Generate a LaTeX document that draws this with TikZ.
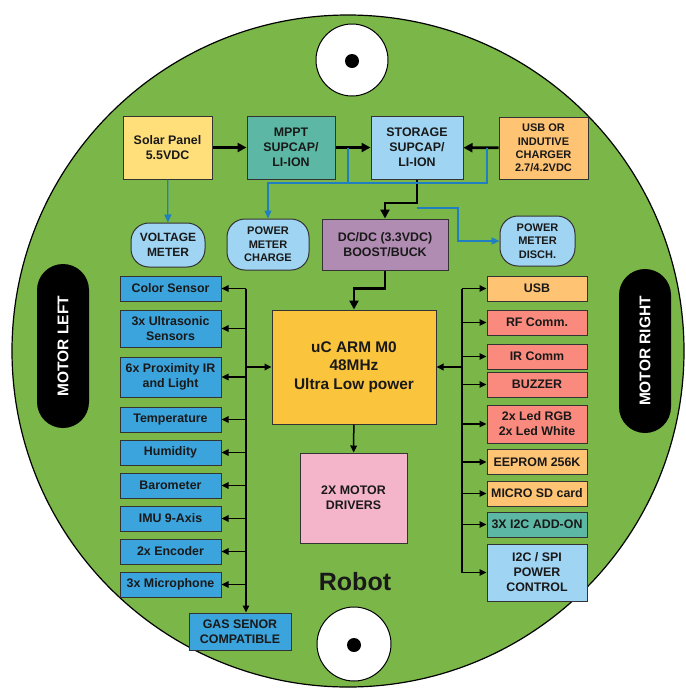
\documentclass[tikz,border=0pt]{standalone}
\usepackage{fontspec}
\setmainfont{Liberation Sans}
\usetikzlibrary{arrows.meta}

\definecolor{robotgreen}{HTML}{7AB648}
\definecolor{solaryellow}{HTML}{FFDF7A}
\definecolor{mpptteal}{HTML}{5CB8A5}
\definecolor{meterblue}{HTML}{9FD4F3}
\definecolor{chgorange}{HTML}{FFC374}
\definecolor{dcpurple}{HTML}{B08CB3}
\definecolor{ucgold}{HTML}{FBC43D}
\definecolor{drvpink}{HTML}{F4B4C9}
\definecolor{sensblue}{HTML}{3BA4DC}
\definecolor{salmon}{HTML}{FA8A7D}
\definecolor{senseblue}{HTML}{1F7FC1}

\newcommand*{\lbusx}{246}
\newcommand*{\rbusx}{462}
\newcommand*{\colL}{170.5}
\newcommand*{\colR}{537}

\begin{document}
\begin{tikzpicture}
[
	x=1pt, y=-1pt,
	blk/.style={draw=black!80, line width=1pt, align=center, inner sep=0pt, text=black!90, font=\bfseries\fontsize{12.4}{15}\selectfont},
	sensor/.style={blk, fill=sensblue, minimum width=101pt, minimum height=25pt},
	outbox/.style={blk, minimum width=100pt, minimum height=25pt},
	meter/.style={blk, fill=meterblue, rounded corners=18pt, font=\bfseries\fontsize{11}{13.5}\selectfont},
	motor/.style={fill=black, rounded corners=26pt, text=white, rotate=90, minimum width=164pt, minimum height=52pt, font=\bfseries\fontsize{15.5}{18}\selectfont},
	pwr/.style={line width=2.8pt, -{Triangle[length=9pt,width=9pt]}},
	bus/.style={line width=1.3pt},
	busarr/.style={bus, -{Triangle[length=7pt,width=6.5pt]}},
	sense/.style={line width=1.2pt, draw=senseblue},
	sensearr/.style={sense, -{Triangle[length=8pt,width=7pt]}}
]
	\useasboundingbox (0,0) rectangle (686,689);

	% body and wheels
	\draw[fill=robotgreen, line width=1.2pt] (348,351) circle[radius=336pt];
	\draw[fill=white, line width=1pt] (352,60) circle[radius=36pt];
	\fill (352,61) circle[radius=7pt];
	\draw[fill=white, line width=1pt] (354,644) circle[radius=37pt];
	\fill (354,645) circle[radius=7pt];
	\node[motor] (motorL) at (63,346) {MOTOR LEFT};
	\node[motor] (motorR) at (645,351) {MOTOR RIGHT};
	\node[font=\bfseries\fontsize{25}{30}\selectfont, text=black!90] (robot) at (355,582) {Robot};

	% power chain
	\node[blk, fill=solaryellow, minimum width=89pt, minimum height=63pt] (solar) at (167.5,147.5) {Solar Panel\\5.5VDC};
	\node[blk, fill=mpptteal, minimum width=88pt, minimum height=63pt] (mppt) at (291,147.5) {MPPT\\SUPCAP/\\LI-ION};
	\node[blk, fill=meterblue, minimum width=92pt, minimum height=63pt] (storage) at (417,147.5) {STORAGE\\SUPCAP/\\LI-ION};
	\node[blk, fill=chgorange, minimum width=89pt, minimum height=62pt, font=\bfseries\fontsize{11}{13.3}\selectfont] (charger) at (543.5,148) {USB OR\\INDUTIVE\\CHARGER\\2.7/4.2VDC};
	\node[meter, minimum width=74pt, minimum height=44pt, font=\bfseries\fontsize{12}{14.5}\selectfont] (vmeter) at (168,245) {VOLTAGE\\METER};
	\node[meter, minimum width=82pt, minimum height=51pt] (pmcharge) at (268,244.5) {POWER\\METER\\CHARGE};
	\node[meter, minimum width=75pt, minimum height=50pt] (pmdisch) at (537.5,241) {POWER\\METER\\DISCH.};
	\node[blk, fill=dcpurple, minimum width=126pt, minimum height=51pt] (dcdc) at (385,244.5) {DC/DC (3.3VDC)\\BOOST/BUCK};

	% controller
	\node[blk, fill=ucgold, minimum width=164pt, minimum height=114pt, font=\bfseries\fontsize{15.4}{18.3}\selectfont] (uc) at (354,367) {uC ARM M0\\48MHz\\Ultra Low power};
	\node[blk, fill=drvpink, minimum width=107pt, minimum height=90pt] (drivers) at (353.5,498) {2X MOTOR\\DRIVERS};

	% sensors
	\foreach \nm/\y/\h/\txt in {color/288.5/25/Color Sensor, ultra/328.5/37/{3x Ultrasonic\\Sensors}, prox/377/40/{6x Proximity IR\\and Light}, temp/419.5/25/Temperature, hum/452.5/25/Humidity, baro/485.5/25/Barometer, imu/518.5/25/IMU 9-Axis, enc/551.5/25/2x Encoder, mic/584.5/25/3x Microphone} {
		\node[sensor, minimum height=\h pt] (\nm) at (\colL,\y) {\txt};
	}
	\node[sensor, minimum width=102pt, minimum height=37pt] (gas) at (240,631.5) {GAS SENOR\\COMPATIBLE};

	% outputs
	\foreach \nm/\y/\h/\fc/\txt in {usb/288.5/25/chgorange/USB, rf/322.5/25/salmon/RF Comm., ir/356.5/25/salmon/IR Comm, buzzer/384.5/25/salmon/BUZZER, led/424/38/salmon/{2x Led RGB\\2x Led White}, eeprom/462/25/chgorange/EEPROM 256K, sd/493.5/25/chgorange/MICRO SD card, itwoc/524.5/25/mpptteal/3X I2C ADD-ON, spi/572.5/57/meterblue/{I2C / SPI\\POWER\\CONTROL}} {
		\node[outbox, fill=\fc, minimum height=\h pt] (\nm) at (\colR,\y) {\txt};
	}

	% power arrows
	\draw[pwr] (solar) -- (mppt);
	\draw[pwr] (mppt) -- (storage);
	\draw[pwr] (charger) -- (storage);
	\draw[pwr] (storage.south) -- ++(0,23.5) coordinate (tapC) -| (dcdc.north);
	\draw[pwr] (dcdc.south) -- ++(0,18) -| (uc.north);
	\draw[busarr, line width=1.5pt] (uc) -- (drivers);

	% metering
	\coordinate (tapA) at (348,147.5);
	\coordinate (tapB) at (487,147.5);
	\draw[sensearr] (solar) -- (vmeter);
	\draw[sense] (tapA) -- ++(0,35.5) coordinate (junc);
	\draw[sense] (tapB) |- (junc);
	\draw[sensearr] (junc) -| (pmcharge.north);
	\draw[sensearr] ([yshift=-5pt]tapC) -- ++(41,0) |- (pmdisch.west);

	% sensor bus
	\coordinate (lbus) at (\lbusx,288.5);
	\draw[busarr] (lbus) -- (lbus |- gas.north);
	\foreach \nm in {color,ultra,prox,temp,hum,baro,imu,enc,mic} {
		\draw[busarr] (lbus |- \nm.east) -- (\nm.east);
	}
	\draw[busarr, line width=2.4pt] (lbus |- uc.west) -- (uc.west);

	% output bus
	\coordinate (rbus) at (\rbusx,288.5);
	\draw[bus] (rbus) -- (rbus |- spi.west);
	\foreach \nm in {usb,rf,ir,buzzer,led,eeprom,sd,itwoc,spi} {
		\draw[busarr] (rbus |- \nm.west) -- (\nm.west);
	}
	\draw[busarr, line width=2.4pt] (rbus |- uc.east) -- (uc.east);

\end{tikzpicture}
\end{document}
